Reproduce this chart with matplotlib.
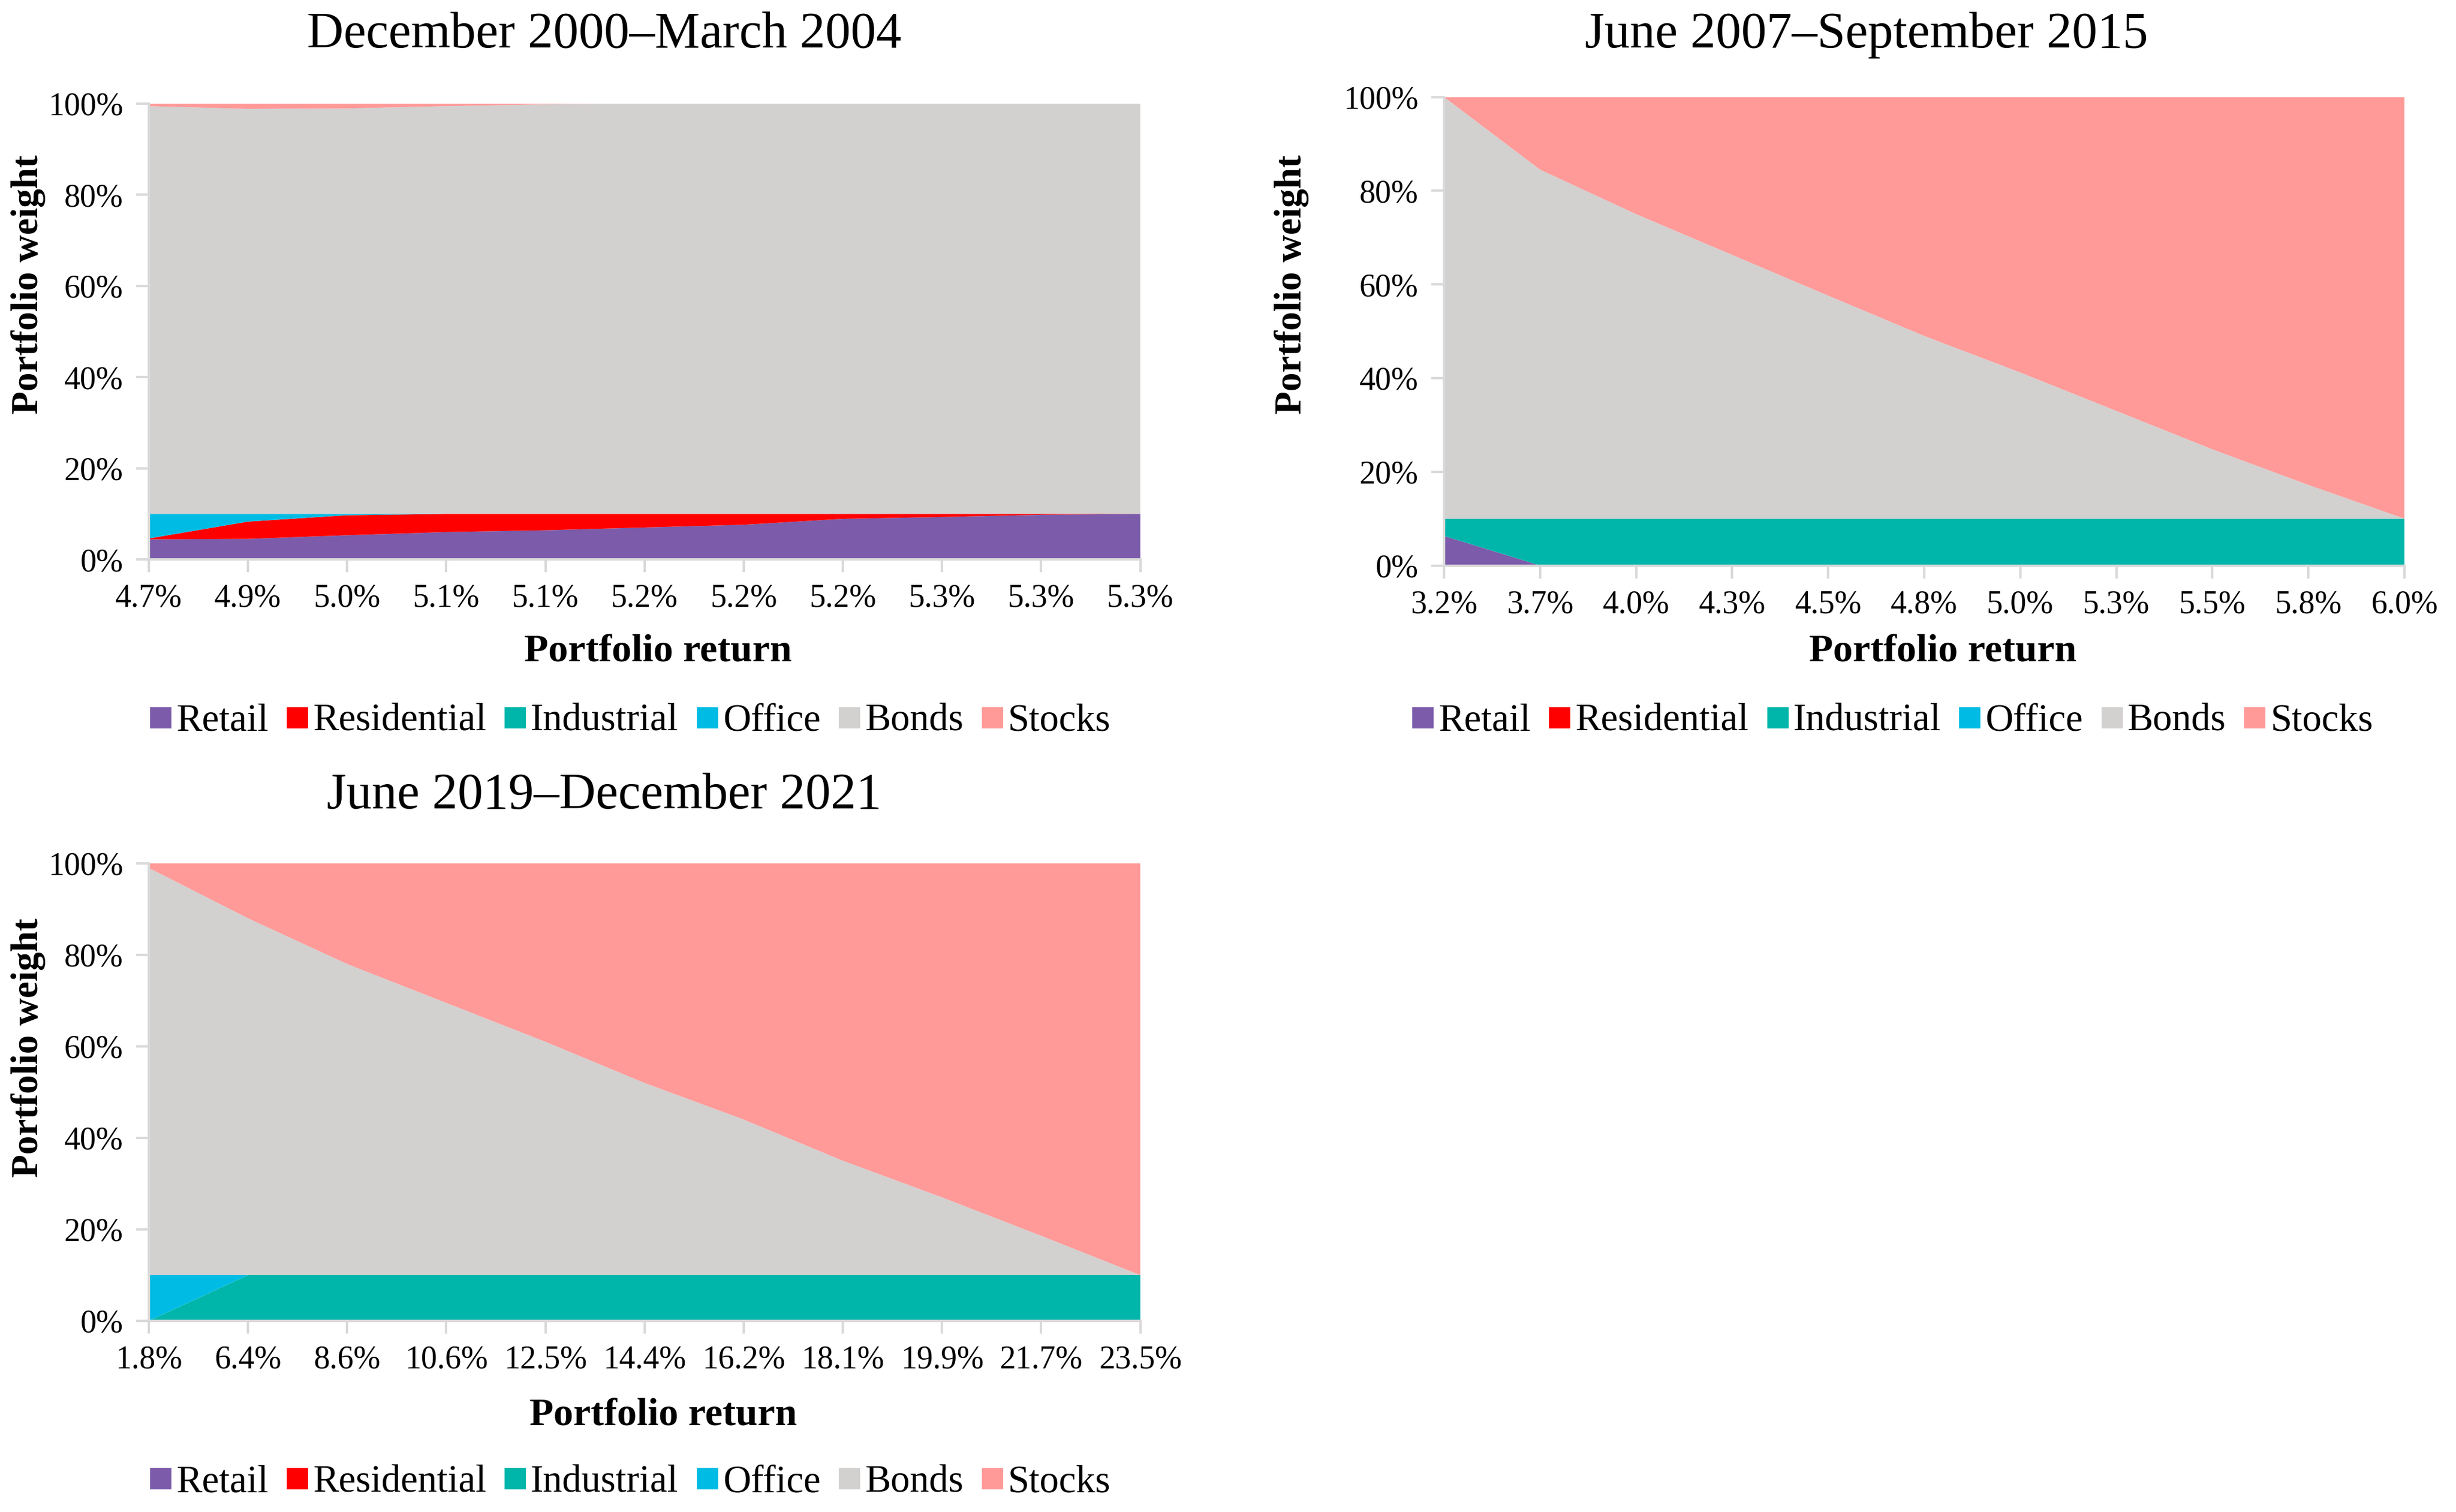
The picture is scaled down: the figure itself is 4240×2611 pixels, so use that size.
import numpy as np
import matplotlib.pyplot as plt
from matplotlib.lines import Line2D

plt.rcParams['font.family'] = ['Liberation Serif', 'DejaVu Serif']
plt.rcParams['font.serif'] = ['Liberation Serif', 'DejaVu Serif']

series_names = ['Retail', 'Residential', 'Industrial', 'Office', 'Bonds', 'Stocks']
colors = ['#7B5BAA', '#FF0000', '#00B5AA', '#00BCE4', '#D3D0D0', '#FF9A98']

# December 2000 - March 2004
returns_1 = ['4.7%', '4.9%', '5.0%', '5.1%', '5.1%', '5.2%', '5.2%', '5.2%', '5.3%', '5.3%', '5.3%']
retail_1 = [4.4, 4.5, 5.3, 6.0, 6.4, 7.0, 7.6, 8.9, 9.3, 9.8, 10.0]
residential_1 = [0.2, 3.8, 4.4, 4.0, 3.6, 3.0, 2.4, 1.1, 0.7, 0.2, 0.0]
industrial_1 = [0, 0, 0, 0, 0, 0, 0, 0, 0, 0, 0]
office_1 = [5.4, 1.7, 0.3, 0, 0, 0, 0, 0, 0, 0, 0]
bonds_1 = [89.4, 88.8, 88.9, 89.4, 89.8, 90, 90, 90, 90, 90, 90]
stocks_1 = [0.6, 1.2, 1.1, 0.6, 0.2, 0, 0, 0, 0, 0, 0]

# June 2007 - September 2015
returns_2 = ['3.2%', '3.7%', '4.0%', '4.3%', '4.5%', '4.8%', '5.0%', '5.3%', '5.5%', '5.8%', '6.0%']
retail_2 = [6.3, 0, 0, 0, 0, 0, 0, 0, 0, 0, 0]
residential_2 = [0, 0, 0, 0, 0, 0, 0, 0, 0, 0, 0]
industrial_2 = [3.7, 10, 10, 10, 10, 10, 10, 10, 10, 10, 10]
office_2 = [0, 0, 0, 0, 0, 0, 0, 0, 0, 0, 0]
bonds_2 = [90, 74.5, 65, 56.3, 47.6, 39, 31.2, 23, 14.8, 7.2, 0]
stocks_2 = [0, 15.5, 25, 33.7, 42.4, 51, 58.8, 67, 75.2, 82.8, 90]

# June 2019 - December 2021
returns_3 = ['1.8%', '6.4%', '8.6%', '10.6%', '12.5%', '14.4%', '16.2%', '18.1%', '19.9%', '21.7%', '23.5%']
retail_3 = [0, 0, 0, 0, 0, 0, 0, 0, 0, 0, 0]
residential_3 = [0, 0, 0, 0, 0, 0, 0, 0, 0, 0, 0]
industrial_3 = [0, 10, 10, 10, 10, 10, 10, 10, 10, 10, 10]
office_3 = [10, 0, 0, 0, 0, 0, 0, 0, 0, 0, 0]
bonds_3 = [89, 78, 68, 59.5, 51, 42, 34, 25, 17, 8.6, 0]
stocks_3 = [1, 12, 22, 30.5, 39, 48, 56, 65, 73, 81.4, 90]

panels = [
    ('December 2000\u2013March 2004', returns_1,
     [retail_1, residential_1, industrial_1, office_1, bonds_1, stocks_1]),
    ('June 2007\u2013September 2015', returns_2,
     [retail_2, residential_2, industrial_2, office_2, bonds_2, stocks_2]),
    ('June 2019\u2013December 2021', returns_3,
     [retail_3, residential_3, industrial_3, office_3, bonds_3, stocks_3]),
]

# plot area rect, then positions of title, x label, legend and y label (figure fractions)
layout = [
    dict(rect=[0.0606, 0.630, 0.4037, 0.3016], title=(0.246, 0.977), xlab=(0.268, 0.569),
         leg=(0.256, 0.523), ylab=(0.0115, 0.812)),
    dict(rect=[0.588, 0.626, 0.391, 0.3098], title=(0.760, 0.977), xlab=(0.791, 0.569),
         leg=(0.770, 0.523), ylab=(0.526, 0.812)),
    dict(rect=[0.0606, 0.1264, 0.4037, 0.3026], title=(0.246, 0.4736), xlab=(0.270, 0.064),
         leg=(0.256, 0.0197), ylab=(0.0115, 0.307)),
]

fig = plt.figure(figsize=(21.2, 13.055), dpi=200)
axis_grey = '#D9D9D9'
serif = 'Liberation Serif'

for (title, labels, data), lay in zip(panels, layout):
    ax = fig.add_axes(lay['rect'])
    x = np.arange(len(labels))
    ax.stackplot(x, *data, colors=colors, linewidth=0)
    ax.set_xlim(0, len(labels) - 1)
    ax.set_ylim(0, 100)
    ax.set_xticks(x)
    ax.set_xticklabels(labels, fontsize=20, family=serif)
    ax.set_yticks(np.arange(0, 101, 20))
    ax.set_yticklabels([f'{v}%' for v in range(0, 101, 20)], fontsize=20, family=serif)
    ax.tick_params(colors=axis_grey, labelcolor='black', length=8, width=1.5)
    ax.tick_params(axis='x', pad=7)
    ax.tick_params(axis='y', pad=8)
    for side in ['top', 'right']:
        ax.spines[side].set_visible(False)
    for side in ['left', 'bottom']:
        ax.spines[side].set_color(axis_grey)
        ax.spines[side].set_linewidth(1.5)

    fig.text(lay['title'][0], lay['title'][1], title, fontsize=31.5, family=serif,
             ha='center', va='center')
    fig.text(lay['xlab'][0], lay['xlab'][1], 'Portfolio return', fontsize=24.5, family=serif,
             fontweight='bold', ha='center', va='center')
    fig.text(lay['ylab'][0], lay['ylab'][1], 'Portfolio weight', fontsize=23.5, family=serif,
             fontweight='bold', ha='center', va='center', rotation=90)

    handles = [Line2D([], [], marker='s', linestyle='none', markersize=12,
                      markerfacecolor=c, markeredgecolor=c) for c in colors]
    fig.legend(handles, series_names, loc='center', bbox_to_anchor=lay['leg'],
               ncol=6, frameon=False, prop=dict(family=serif, size=24),
               handletextpad=0.05, columnspacing=0.4, handlelength=0.7)

fig.savefig('out.png', dpi=200)
